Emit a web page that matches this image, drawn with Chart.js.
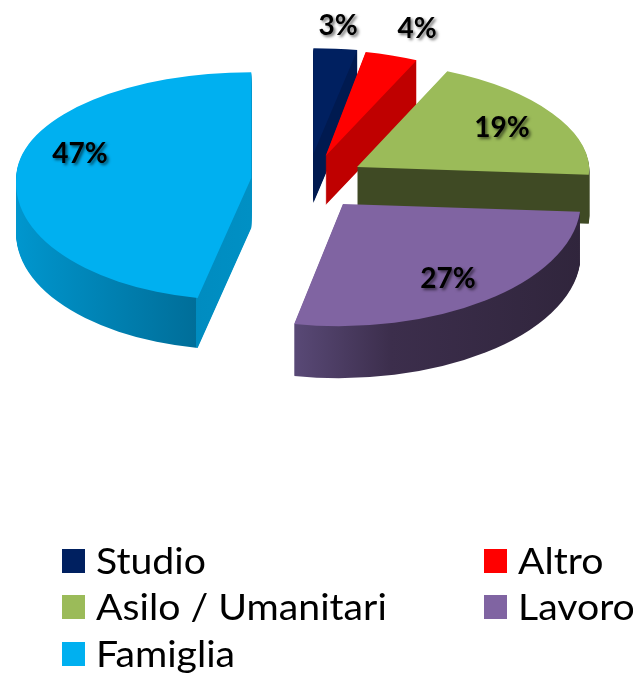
<!DOCTYPE html>
<html>
<head>
<meta charset="utf-8">
<style>html,body{margin:0;padding:0;background:#fff}canvas{display:block}</style>
<script src="https://cdn.jsdelivr.net/npm/chart.js@4"></script>
</head>
<body>
<canvas id="c" width="633" height="674"></canvas>
<script>
const categories = ['Studio', 'Altro', 'Asilo / Umanitari', 'Lavoro', 'Famiglia'];
const shares = [3, 4, 19, 27, 47];
const topColors = ['#002060', '#FF0000', '#9BBB59', '#8064A2', '#00B0F0'];
const labelCenters = [[338, 26], [417, 29], [502, 128], [448, 279], [80, 154]];
const legendCells = [[62, 574], [484, 574], [62, 620], [484, 620], [62, 667]];

// Perspective of the tilted pie: vertical squash behind / in front of each apex,
// and per-slice [backScaleX, backShear, frontScaleX, frontShear, depth]
const BACK = 0.45, FRONT = 0.52;
const sliceWarp = [
  [1, 0, 1, 0, 49],
  [0.91, 0, 1, 0, 49],
  [0.988, 0.09, 0.988, 0, 49],
  [1, 0, 1.012, -0.035, 52],
  [1, 0, 1, -0.08, 50]
];

function sideFill(ctx, i) {
  const stops = [
    [313, 358, [[0, '#001A50'], [1, '#001A50']]],
    [326, 417, [[0, '#BF0000'], [1, '#BF0000']]],
    [358, 590, [[0, '#3F4A24'], [1, '#3F4A24']]],
    [295, 580, [[0, '#5A4A78'], [0.35, '#3C2E4C'], [1, '#30253C']]],
    [15, 250, [[0, '#0097CF'], [0.81, '#006E99'], [0.813, '#008CC0'], [1, '#0090C4']]]
  ][i];
  const g = ctx.createLinearGradient(stops[0], 0, stops[1], 0);
  stops[2].forEach(s => g.addColorStop(s[0], s[1]));
  return g;
}

function drawBand(ctx, proxy, W, top, bottom, origin, k, sx, shear) {
  ctx.save();
  ctx.beginPath();
  ctx.rect(0, top, W, bottom - top);
  ctx.clip();
  ctx.translate(proxy.x, origin);
  ctx.transform(sx, 0, shear, 1, 0, 0);
  ctx.scale(1, k);
  ctx.translate(-proxy.x, 0);
  proxy.draw(ctx);
  ctx.restore();
}

function drawSlice(chart, arc, i, fill, drop) {
  const ctx = chart.ctx, W = chart.width, H = chart.height;
  const offset = arc.options.offset / 4;
  const mid = (arc.startAngle + arc.endAngle) / 2;
  const proxy = Object.create(arc);
  proxy.x = arc.x + Math.cos(mid) * offset;
  proxy.y = 0;
  proxy.options = Object.assign({}, arc.options, { offset: 0, backgroundColor: fill, borderWidth: 0 });
  const s = Math.sin(mid);
  const apexY = Math.round(arc.y + s * offset * (s > 0 ? 0.51 : 0.47)) + drop;
  const w = sliceWarp[i];
  drawBand(ctx, proxy, W, 0, apexY, apexY, BACK, w[0], w[1]);
  drawBand(ctx, proxy, W, apexY, H, apexY, FRONT, w[2], w[3]);
}

const pie3d = {
  id: 'pie3d',
  beforeDatasetDraw() { return false; },
  afterDatasetsDraw(chart) {
    const ctx = chart.ctx;
    const arcs = chart.getDatasetMeta(0).data;
    arcs.forEach((arc, i) => {
      const side = sideFill(ctx, i);
      for (let d = sliceWarp[i][4]; d >= 1; d--) drawSlice(chart, arc, i, side, d);
      drawSlice(chart, arc, i, topColors[i], 0);
    });
    ctx.save();
    ctx.font = 'bold 28px Lato';
    ctx.textAlign = 'center';
    ctx.textBaseline = 'middle';
    ctx.fillStyle = '#000';
    ctx.shadowColor = 'rgba(0,0,0,0.55)';
    ctx.shadowBlur = 3;
    ctx.shadowOffsetX = 2;
    ctx.shadowOffsetY = 2;
    shares.forEach((v, i) => ctx.fillText(v + '%', labelCenters[i][0], labelCenters[i][1]));
    ctx.restore();
    ctx.save();
    ctx.font = '37px Lato';
    ctx.textAlign = 'left';
    ctx.textBaseline = 'alphabetic';
    categories.forEach((name, i) => {
      const [x, y] = legendCells[i];
      ctx.fillStyle = topColors[i];
      ctx.fillRect(x, y - 25, 23, 24);
      ctx.fillStyle = '#000';
      ctx.save();
      ctx.translate(x + 34, y);
      ctx.scale(1.06, 1);
      ctx.fillText(name, 0, 0);
      ctx.restore();
    });
    ctx.restore();
  }
};

new Chart(document.getElementById('c'), {
  type: 'pie',
  data: {
    labels: categories,
    datasets: [{ data: shares, backgroundColor: topColors, borderWidth: 0, offset: 228 }]
  },
  options: {
    responsive: false,
    animation: false,
    radius: 235,
    layout: { padding: { left: 0, right: 17, top: 0, bottom: 312 } },
    plugins: { legend: { display: false }, tooltip: { enabled: false } }
  },
  plugins: [pie3d]
});
</script>
</body>
</html>
